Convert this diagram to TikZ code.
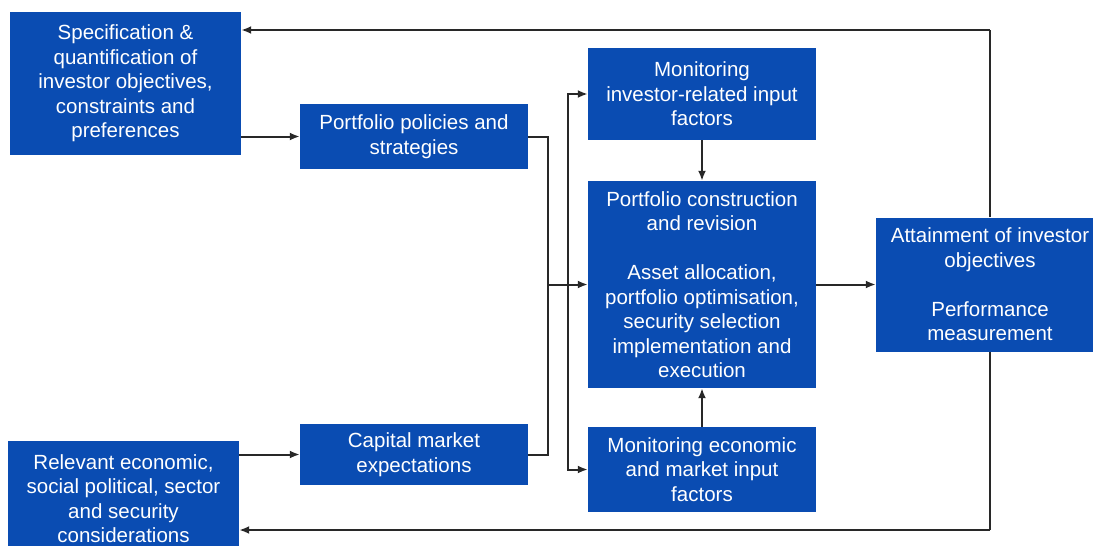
\documentclass[tikz,border=0pt]{standalone}
\usepackage{fontspec}
\setmainfont{Liberation Sans}
\usetikzlibrary{arrows.meta}
\definecolor{boxblue}{RGB}{10,76,178}
\definecolor{wirecol}{RGB}{40,40,40}
\begin{document}
\begin{tikzpicture}[x=1pt,y=-1pt,
  box/.style={draw=none, fill=boxblue, text=white, align=center,
    font=\fontsize{20.5}{24.5}\selectfont, inner sep=0pt},
  wire/.style={draw=wirecol, line width=2pt},
  arr/.style={wire, -{Latex[length=10pt,width=8pt]}}]
\useasboundingbox (0,0) rectangle (1093,546);

% boxes
\node[box, minimum width=231, minimum height=143] (spec) at (125.5,83.5)
  {Specification \&\\quantification of\\investor objectives,\\constraints and\\preferences};
\node[box, minimum width=228, minimum height=65] (policy) at (414,136.5)
  {Portfolio policies and\\strategies};
\node[box, minimum width=228, minimum height=92] (moninv) at (702,94)
  {Monitoring\\investor-related input\\factors};
\node[box, minimum width=228, minimum height=207] (constr) at (702,284.5)
  {Portfolio construction\\and revision\\[24.5pt]Asset allocation,\\portfolio optimisation,\\security selection\\implementation and\\execution};
\node[box, minimum width=228, minimum height=134] (attain) at (990,284.5)
  {Attainment of investor\\objectives\\[24.5pt]Performance\\measurement};
\node[box, minimum width=231, minimum height=115] (relev) at (123.5,498.5)
  {Relevant economic,\\social political, sector\\and security\\considerations};
\node[box, minimum width=228, minimum height=61] (capital) at (414,454.5)
  {Capital market\\expectations};
\node[box, minimum width=228, minimum height=85] (monecon) at (702,469.5)
  {Monitoring economic\\and market input\\factors};

% junction points
\coordinate (merge) at (548,284.5);
\coordinate (split) at (568,284.5);
\coordinate (topret) at (990,30);
\coordinate (botret) at (990,530);

% connectors
\draw[arr] (spec.east |- policy.west) -- (policy.west);
\draw[arr] (relev.east |- capital.west) -- (capital.west);
\draw[wire] (policy.east) -| (merge);
\draw[wire] (capital.east) -| (merge);
\draw[arr] (merge) -- (constr.west);
\draw[arr] (split) |- (moninv.west);
\draw[arr] (split) |- (monecon.west);
\draw[arr] (moninv.south) -- (constr.north);
\draw[arr] (monecon.north) -- (constr.south);
\draw[arr] (constr.east) -- (attain.west);
\draw[wire] (attain.north) -- (topret);
\draw[arr] (topret) -- (spec.east |- topret);
\draw[wire] (attain.south) -- (botret);
\draw[arr] (botret) -- (relev.east |- botret);
\end{tikzpicture}
\end{document}
